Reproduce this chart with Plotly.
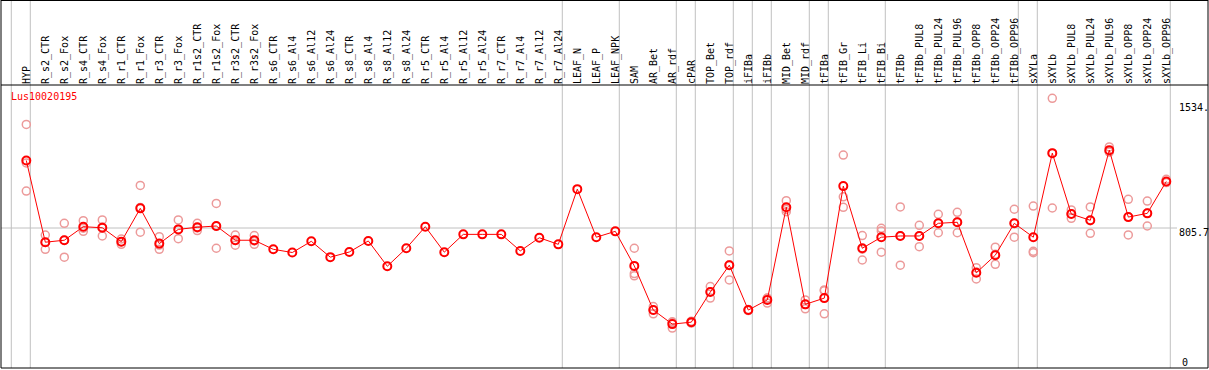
import plotly.graph_objects as go

categories = ["HYP", "R_s2_CTR", "R_s2_Fox", "R_s4_CTR", "R_s4_Fox", "R_r1_CTR", "R_r1_Fox",
              "R_r3_CTR", "R_r3_Fox", "R_r1s2_CTR", "R_r1s2_Fox", "R_r3s2_CTR", "R_r3s2_Fox",
              "R_s6_CTR", "R_s6_Al4", "R_s6_Al12", "R_s6_Al24", "R_s8_CTR", "R_s8_Al4",
              "R_s8_Al12", "R_s8_Al24", "R_r5_CTR", "R_r5_Al4", "R_r5_Al12", "R_r5_Al24",
              "R_r7_CTR", "R_r7_Al4", "R_r7_Al12", "R_r7_Al24", "LEAF_N", "LEAF_P", "LEAF_NPK",
              "SAM", "AR_Bet", "AR_rdf", "cPAR", "TOP_Bet", "TOP_rdf", "iFIBa", "iFIBb",
              "MID_Bet", "MID_rdf", "tFIBa", "tFIB_Gr", "tFIB_Li", "tFIB_Bi", "tFIBb",
              "tFIBb_PUL8", "tFIBb_PUL24", "tFIBb_PUL96", "tFIBb_OPP8", "tFIBb_OPP24",
              "tFIBb_OPP96", "sXYLa", "sXYLb", "sXYLb_PUL8", "sXYLb_PUL24", "sXYLb_PUL96",
              "sXYLb_OPP8", "sXYLb_OPP24", "sXYLb_OPP96"]

means = [1185, 726, 737, 813, 807, 729, 916, 718, 798, 810, 817, 737, 737,
         686, 668, 731, 642, 671, 733, 591, 692, 813, 670, 770, 770, 770, 677, 751, 714,
         1024, 754, 787,
         593, 345, 266, 277, 446, 597, 345, 402, 922, 377, 412, 1041, 692, 754,
         761, 761, 832, 838, 554, 653, 832, 754,
         1226, 884, 849, 1243, 867, 888, 1067]

N = None
rep_a = [1387, 766, 832, 847, 851, 744, 1045, 757, 851, 832, 944, 766, 763,
         N, N, N, N, N, N, N, N, N, N, N, N, N, N, N, N,
         N, N, N,
         692, 365, 275, 282, 477, 677, 348, 411, 959, 402, 458, 1215, 763, 804,
         924, 821, 883, 894, 583, 698, 911, 929,
         1534, 907, 924, 1261, 967, 957, 1079]
rep_b = [1013, 686, 642, 787, 761, 714, 782, 686, 746, 791, 692, 709, 714,
         N, N, N, N, N, N, N, N, N, N, N, N, N, N, N, N,
         N, N, N,
         537, 324, 244, 272, 412, 514, 342, 384, 897, 352, 324, 922, 626, 670,
         597, 701, 779, 779, 520, 602, 754, 667,
         918, 860, 776, 1235, 767, 817, 1062]
rep_c = [1171, 725, 737, 805, 811, 729, 921, 710, 799, 806, 815, 736, 733,
         N, N, N, N, N, N, N, N, N, N, N, N, N, N, N, N,
         N, N, N,
         550, 345, 279, 277, 448, 599, 345, 412, 910, 376, 453, 981, 687, 789,
         762, 761, 834, 840, 558, 658, 832, 675,
         1226, 886, 847, 1232, 869, 890, 1061]

group_ends = [-1, 0, 28, 31, 34, 35, 37, 38, 39, 41, 42, 45, 52, 53, 60]
ref_value = 805.7
y_labels = ["1534.", "805.7", "0"]
gene = "Lus10020195"

W, H = 1209, 370
ml, mr, mt, mb = 1, 1, 85, 2
pw, ph = W - ml - mr, H - mt - mb

xs = list(range(len(categories)))
x0 = -25.3 / 19.0
x1 = x0 + pw / 19.0
ylo, yhi = 19.6, 1608.7

fig = go.Figure()
rx, ry = [], []
for r in (rep_a, rep_b, rep_c):
    for i, v in enumerate(r):
        if v is not None:
            rx.append(i)
            ry.append(v)
fig.add_trace(go.Scatter(x=rx, y=ry, mode="markers",
                         marker=dict(symbol="circle-open", size=8, color="#ec9a9a",
                                     line=dict(width=1.5, color="#ec9a9a")),
                         hoverinfo="skip", showlegend=False))
fig.add_trace(go.Scatter(x=xs, y=means, mode="lines+markers",
                         line=dict(color="#ff0000", width=1),
                         marker=dict(symbol="circle-open", size=8, color="#ff0000",
                                     line=dict(width=2, color="#ff0000")),
                         hoverinfo="skip", showlegend=False))

top_paper = (H - mb) / ph
shapes = []
for g in group_ends:
    shapes.append(dict(type="line", xref="x", yref="paper", x0=g + 0.21, x1=g + 0.21,
                       y0=0, y1=top_paper, line=dict(color="#c0c0c0", width=1), layer="below"))
shapes.append(dict(type="line", xref="paper", yref="y", x0=0, x1=(1177 - ml) / pw,
                   y0=ref_value, y1=ref_value, line=dict(color="#c0c0c0", width=1), layer="below"))
blk = dict(color="black", width=1)
shapes += [
    dict(type="line", xref="paper", yref="paper", x0=0, x1=1, y0=1, y1=1, line=blk),
    dict(type="line", xref="paper", yref="paper", x0=0, x1=1, y0=0, y1=0, line=blk),
    dict(type="line", xref="paper", yref="paper", x0=0, x1=1, y0=top_paper - 0.5 / ph, y1=top_paper - 0.5 / ph, line=blk),
    dict(type="line", xref="paper", yref="paper", x0=0, x1=0, y0=0, y1=top_paper, line=blk),
    dict(type="line", xref="paper", yref="paper", x0=1, x1=1, y0=0, y1=top_paper, line=blk),
]

font = dict(family="DejaVu Sans Mono", size=10, color="black")
ann = [dict(xref="paper", yref="paper", x=(9 - ml) / pw, y=(H - mb - 97) / ph,
            text=gene, showarrow=False, xanchor="left", yanchor="middle",
            font=dict(family="DejaVu Sans Mono", size=10, color="#ff0000"))]
for txt, ypx, xpx in zip(y_labels, [107, 232.5, 362], [1177, 1177, 1180]):
    ann.append(dict(xref="paper", yref="paper", x=(xpx - ml) / pw, y=(H - mb - ypx) / ph,
                    text=txt, showarrow=False, xanchor="left", yanchor="middle", font=font))

fig.update_layout(
    width=W, height=H, margin=dict(l=ml, r=mr, t=mt, b=mb),
    paper_bgcolor="white", plot_bgcolor="white",
    shapes=shapes, annotations=ann, hovermode=False,
    xaxis=dict(range=[x0, x1], tickmode="array", tickvals=xs, ticktext=categories,
               side="top", tickangle=-90, showgrid=False, zeroline=False, showline=False,
               ticks="", tickfont=font),
    yaxis=dict(range=[ylo, yhi], showgrid=False, zeroline=False, showticklabels=False,
               showline=False, ticks=""),
)
fig.write_html("out.html", config={"displayModeBar": False},
               post_script="document.body.style.margin='0px';document.body.style.overflow='hidden';")
